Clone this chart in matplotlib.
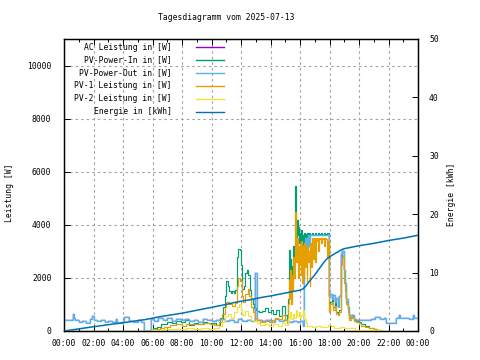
import matplotlib
matplotlib.use("Agg")
import matplotlib.pyplot as plt
from matplotlib.ticker import MultipleLocator, FixedLocator

# ---------------- data (hours of day, values) ----------------
title = "Tagesdiagramm vom 2025-07-13"
xtick_hours = list(range(0, 25, 2))
xtick_labels = ["00:00", "02:00", "04:00", "06:00", "08:00", "10:00", "12:00",
                "14:00", "16:00", "18:00", "20:00", "22:00", "00:00"]

pvin_t = [0, 5.85, 6.0, 6.3, 6.6, 7.0, 7.3, 7.6, 7.9, 8.2, 8.5, 8.8, 9.1, 9.4, 9.7, 10.0, 10.3, 10.6, 10.8,
          10.9, 11.0, 11.1, 11.2, 11.3, 11.4, 11.5, 11.6, 11.7, 11.75, 11.8, 11.9, 12.0, 12.05, 12.1, 12.2,
          12.3, 12.4, 12.5, 12.6, 12.7, 12.8, 12.9, 13.0, 13.1, 13.2, 13.4, 13.6, 13.8, 14.0, 14.2, 14.4,
          14.6, 14.8, 15.0, 15.1,
          15.20, 15.25, 15.30, 15.35, 15.40, 15.45, 15.50, 15.55, 15.60, 15.65, 15.70, 15.75, 15.80, 15.85,
          15.90, 15.95, 16.00, 16.05, 16.10, 16.15, 16.20, 16.25, 16.30, 16.35, 16.40, 16.45, 16.50, 16.55,
          16.60, 16.65, 16.70, 16.80, 16.90, 17.00, 17.10, 17.20, 17.30, 17.40, 17.50, 17.60, 17.70, 17.80,
          17.90, 17.95, 18.05, 18.15, 18.25, 18.35, 18.45, 18.55, 18.65, 18.75, 18.85, 18.95, 19.05, 19.15,
          19.25, 19.35, 19.45, 19.55, 19.65, 19.8, 20.0, 20.15, 20.4, 20.7, 21.0, 21.2, 21.5]
pvin_v = [0, 50, 100, 150, 250, 350, 300, 380, 330, 400, 230, 300, 280, 350, 320, 300, 230, 500, 900,
          1300, 1900, 1700, 1500, 1450, 1500, 1450, 1550, 1600, 2800, 3100, 3050, 2500, 1900, 1600, 1700,
          2200, 2300, 2100, 1550, 1200, 1000, 850, 800, 750, 700, 750, 850, 700, 800, 650, 780,
          550, 950, 600, 420,
          1200, 3060, 2050, 2700, 1500, 2430, 2000, 3200, 2600, 5450, 5000, 3180, 4200, 3600,
          3900, 3300, 3700, 3100, 3800, 2900, 3600, 2500, 3700, 3000, 3650, 2700, 3700, 3300,
          3700, 3700, 3600, 3700, 3600, 3700, 3600, 3700, 3650, 3700, 3600, 3700, 3650, 3700,
          3700, 750, 1100, 1250, 900, 1050, 720, 650, 800, 2700, 3000, 2000, 1700, 1100,
          800, 500, 600, 550, 420, 380, 330, 250, 190, 130, 90, 40, 0]

pv1_t = [0, 5.85, 6.2, 6.5, 6.8, 7.2, 7.6, 8.0, 8.3, 8.7, 9.1, 9.5, 9.9, 10.2, 10.5, 10.7, 10.9, 11.0,
         11.2, 11.4, 11.6, 11.75, 11.8, 11.95, 12.05, 12.15, 12.3, 12.45, 12.55, 12.7, 12.8, 12.95, 13.1,
         13.3, 13.6, 13.9, 14.1, 14.3, 14.5, 14.8, 15.0, 15.15,
         15.20, 15.25, 15.30, 15.35, 15.40, 15.45, 15.50, 15.55, 15.60, 15.65, 15.70, 15.75, 15.80, 15.85,
         15.90, 15.95, 16.00, 16.05, 16.10, 16.15, 16.20, 16.25, 16.30, 16.35, 16.40, 16.45, 16.50, 16.55,
         16.60, 16.65, 16.70, 16.75, 16.80, 16.85, 16.90, 16.95, 17.00, 17.05, 17.10, 17.15, 17.20, 17.25,
         17.30, 17.35, 17.40, 17.45, 17.50, 17.55, 17.60, 17.65, 17.70, 17.75, 17.80, 17.85, 17.90, 17.95,
         18.05, 18.15, 18.25, 18.35, 18.45, 18.55, 18.65, 18.75, 18.85, 18.95, 19.05, 19.15, 19.25, 19.35,
         19.45, 19.55, 19.65, 19.8, 20.0, 20.15, 20.4, 20.7, 21.0, 21.2, 21.5]
pv1_v = [0, 30, 80, 100, 150, 220, 250, 200, 260, 280, 250, 300, 270, 220, 350, 650, 900, 1100,
         1000, 950, 1050, 1700, 2000, 1900, 1300, 1100, 1400, 1600, 1300, 900, 700, 500, 400,
         350, 380, 330, 420, 500, 450, 600, 400, 320,
         1000, 1920, 1200, 2300, 1000, 2100, 1500, 2800, 2000, 4500, 4300, 2600, 3500, 2000,
         3200, 2500, 3300, 2100, 3400, 1800, 3200, 2000, 3300, 2400, 3100, 1900, 3200, 2600,
         3000, 1700, 3300, 2400, 3500, 3400, 2700, 3500, 3450, 2600, 3500, 3400, 3500, 3000,
         3500, 3450, 3500, 3300, 3500, 3450, 3500, 3200, 3500, 3450, 3400, 2800, 3400, 700,
         1000, 1100, 800, 950, 650, 600, 700, 2500, 2800, 1800, 1500, 1000, 700, 420,
         550, 500, 380, 350, 300, 200, 150, 110, 80, 30, 0]

pv2_t = [0, 5.9, 6.3, 6.8, 7.3, 7.8, 8.3, 8.8, 9.3, 9.8, 10.2, 10.5, 10.7, 10.9, 11.1, 11.3, 11.5, 11.7,
         11.85, 12.0, 12.1, 12.3, 12.5, 12.7, 12.9, 13.1, 13.3, 13.6, 13.9, 14.2, 14.5, 14.8, 15.0, 15.2,
         15.3, 15.4, 15.5, 15.6, 15.7, 15.8, 15.9, 16.0, 16.1, 16.2, 16.3, 16.4, 16.5, 16.8, 17.1, 17.4,
         17.7, 17.9, 18.1, 18.3, 18.7, 19.0, 19.4, 19.7, 20.1, 20.6, 21.0, 21.4]
pv2_v = [0, 20, 40, 60, 80, 60, 100, 80, 110, 90, 120, 200, 350, 550, 650, 500, 700, 900,
         1020, 800, 600, 750, 550, 420, 380, 300, 220, 280, 180, 250, 200, 300, 220, 500,
         700, 450, 650, 500, 800, 550, 730, 480, 600, 790, 450, 300, 180, 150, 200, 140,
         160, 220, 180, 110, 160, 120, 100, 50, 40, 30, 20, 0]

pvout_t = [0.0, 0.25, 0.5, 0.58, 0.66, 0.75, 1.0, 1.25, 1.5, 1.75, 1.9, 2.0, 2.25, 2.5, 2.75, 3.0, 3.25,
           3.5, 3.6, 3.9, 4.1, 4.4, 4.7, 5.0, 5.25, 5.45, 5.9, 6.1, 6.4, 6.7, 7.0, 7.3, 7.6, 7.9, 8.2,
           8.5, 8.8, 9.1, 9.4, 9.7, 10.0, 10.3, 10.6, 10.9, 11.2, 11.5, 11.8, 12.1, 12.4, 12.7, 12.98,
           13.08, 13.4, 13.7, 14.0, 14.3, 14.6, 14.9, 15.2, 15.5, 15.8, 16.0, 16.2, 16.25, 16.3, 16.35,
           16.4, 16.45, 16.5, 16.55, 16.6, 16.65, 16.7, 17.95, 18.05, 18.15, 18.25, 18.35, 18.45, 18.55,
           18.65, 18.75, 18.85, 18.95, 19.05, 19.15, 19.25, 19.35, 19.45, 19.55, 19.65, 19.8, 20.0, 20.4,
           20.8, 21.1, 21.4, 21.7, 21.85, 22.1, 22.4, 22.5, 22.7, 22.8, 23.1, 23.4, 23.65, 23.75, 24.0]
pvout_v = [420, 400, 430, 650, 480, 400, 330, 380, 320, 450, 560, 420, 370, 400, 350, 380, 350,
           450, 300, 330, 540, 380, 350, 400, 350, 0, 450, 380, 500, 420, 480, 380, 440, 400, 460,
           380, 420, 350, 450, 400, 380, 420, 470, 380, 420, 350, 450, 380, 420, 380, 2180,
           400, 380, 420, 350, 450, 380, 420, 350, 380, 330, 360, 200, 3300, 2500, 3500,
           3000, 3500, 2800, 3600, 3200, 3600, 3620, 1300, 1400, 1200, 1350, 1100, 1250, 900,
           1300, 2900, 3000, 2300, 1800, 1200, 900, 600, 500, 600, 450, 400, 420, 400,
           470, 540, 450, 500, 300, 320, 300, 480, 600, 480, 500, 470, 600, 500, 500]

# AC output coincides with PV-Power-Out in the reference (hidden underneath)
ac_t = pvout_t
ac_v = pvout_v

energy_t = [0, 0.5, 1, 1.5, 2, 2.5, 3, 3.5, 4, 4.5, 5, 5.5, 6, 6.5, 7, 7.5, 8, 8.5, 9, 9.5, 10, 10.5, 11,
            11.5, 12, 12.5, 13, 13.5, 14, 14.5, 15, 15.5, 16, 16.2, 16.4, 16.6, 16.8, 17.0, 17.2, 17.4,
            17.6, 17.8, 18.0, 18.2, 18.4, 18.6, 18.8, 19.0, 19.2, 19.5, 20.0, 20.5, 21.0, 21.5, 22.0,
            22.5, 23.0, 23.5, 24.0]
energy_v = [0, 0.18, 0.36, 0.55, 0.73, 0.9, 1.08, 1.25, 1.42, 1.6, 1.78, 1.95, 2.2, 2.45, 2.65, 2.85,
            3.05, 3.3, 3.55, 3.8, 4.05, 4.3, 4.55, 4.85, 5.1, 5.3, 5.55, 5.8, 6.0, 6.25, 6.5, 6.75, 7.0,
            7.2, 7.7, 8.4, 9.0, 9.6, 10.3, 11.0, 11.7, 12.3, 12.7, 13.0, 13.3, 13.6, 13.9, 14.1, 14.2,
            14.35, 14.6, 14.8, 15.0, 15.25, 15.5, 15.7, 15.9, 16.15, 16.4]

series = [
    ("AC Leistung in [W]", ac_t, ac_v, "#9400d3"),
    ("PV-Power-In in [W]", pvin_t, pvin_v, "#009e73"),
    ("PV-Power-Out in [W]", pvout_t, pvout_v, "#56b4e9"),
    ("PV-1 Leistung in [W]", pv1_t, pv1_v, "#e69f00"),
    ("PV-2 Leistung in [W]", pv2_t, pv2_v, "#f0e442"),
]
energy_label = "Energie in [kWh]"
energy_color = "#0072b2"

# ---------------- figure ----------------
plt.rcParams['font.family'] = ['DejaVu Sans Mono']
FS = 5.8
fig = plt.figure(figsize=(4.8, 3.6), dpi=100)
ax = fig.add_axes([64/480, 1-331/360, (418-64)/480, (331-39)/360])
ax2 = ax.twinx()

for i, (lab, t, v, c) in enumerate(series):
    if i == 0:
        ax.plot(t, v, drawstyle='steps-post', color=c, lw=0.3, zorder=2)
    elif i == 2:
        ax.plot(t, v, drawstyle='steps-post', color=c, lw=1.0, zorder=3)
    else:
        ax.plot(t, v, drawstyle='steps-post', color=c, lw=0.85, zorder=3)
ax2.plot(energy_t, energy_v, color=energy_color, lw=1.1, zorder=4)

ax.set_xlim(0, 24)
ax.set_ylim(0, 11000)
ax2.set_ylim(0, 50)

ax.xaxis.set_major_locator(FixedLocator(xtick_hours))
ax.set_xticklabels(xtick_labels, fontsize=FS)
ax.xaxis.set_minor_locator(MultipleLocator(1))
ax.yaxis.set_major_locator(MultipleLocator(2000))
ax.tick_params(axis='y', labelsize=FS)
ax2.yaxis.set_major_locator(MultipleLocator(10))
ax2.tick_params(axis='y', labelsize=FS)

ax.tick_params(axis='x', which='both', direction='in', top=True, bottom=True, pad=6)
ax.tick_params(axis='x', which='major', length=4, width=0.7)
ax.tick_params(axis='x', which='minor', length=2.5, width=0.7)
ax.tick_params(axis='y', which='major', direction='in', left=True, right=False, length=4, width=0.7, pad=9)
ax2.tick_params(axis='y', which='major', direction='in', length=4, width=0.7, pad=8)

ax.grid(True, which='major', color='#a0a0a0', linestyle=(0, (2.2, 2.8)), lw=0.8)
ax.set_axisbelow(True)
for sp in list(ax.spines.values()) + list(ax2.spines.values()):
    sp.set_linewidth(0.9)

# legend (gnuplot style: right aligned text, sample line to the right)
rows = [lab for lab, *_ in series] + [energy_label]
cols = [c for *_, c in series] + [energy_color]
for i, (lab, c) in enumerate(zip(rows, cols)):
    yy = 1 - (47 + 13*i - 39) / 292
    ax.text(0.305, yy, lab, transform=ax.transAxes, ha='right', va='center', fontsize=FS, zorder=6)
    ax.plot([0.373, 0.452], [yy, yy], transform=ax.transAxes, color=c, lw=1.0, zorder=6,
            clip_on=False)

fig.text(226/480, 1-17/360, title, ha='center', va='center', fontsize=FS)
fig.text(10/480, 1-193/360, "Leistung [W]", rotation=90, ha='center', va='center', fontsize=FS)
fig.text(452/480, 1-194/360, "Energie [kWh]", rotation=90, ha='center', va='center', fontsize=FS)

fig.savefig("out.png", dpi=100)
